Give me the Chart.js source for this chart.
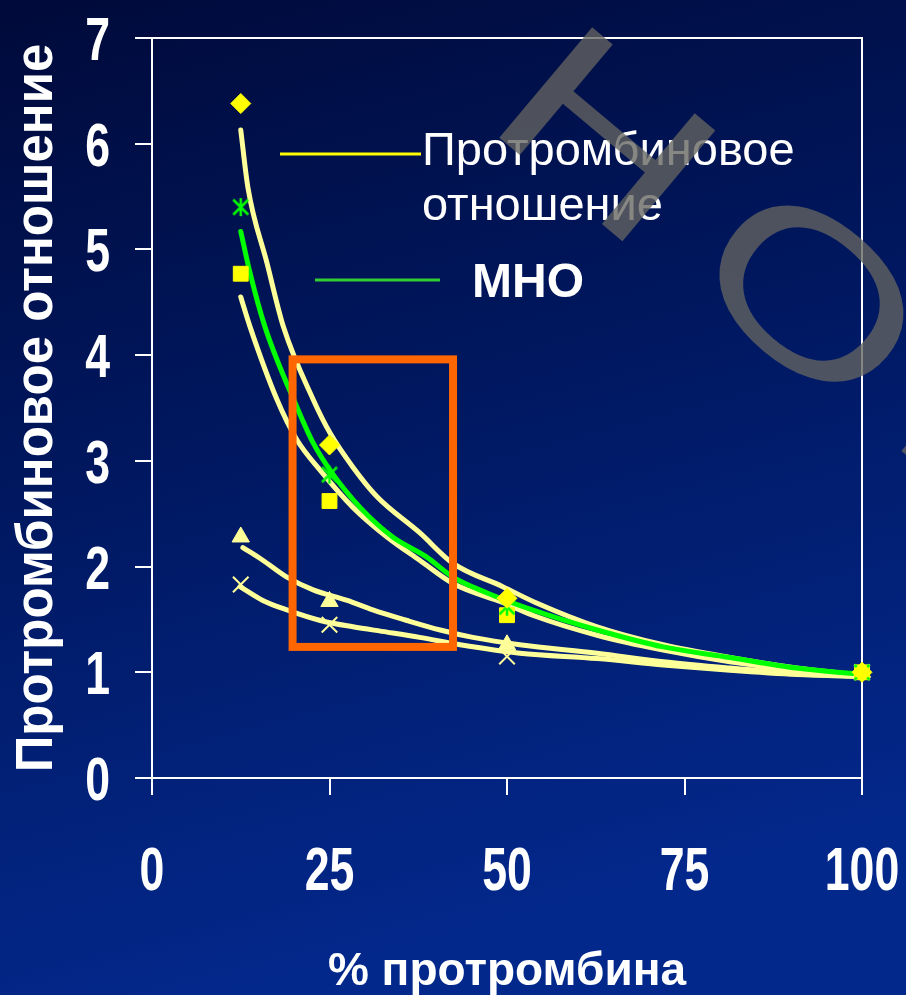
<!DOCTYPE html>
<html lang="ru">
<head>
<meta charset="utf-8">
<title>Протромбиновое отношение и МНО</title>
<script src="https://cdn.jsdelivr.net/npm/chart.js@4.4.1/dist/chart.umd.min.js"></script>
<style>
  html, body { margin: 0; padding: 0; background: #001560; }
  #chart { display: block; }
</style>
</head>
<body>
<canvas id="chart" width="906" height="995"></canvas>
<script>
//DATA

//Axes
var xTicks = [0, 25, 50, 75, 100];
var yTicks = [0, 1, 2, 3, 4, 5, 6, 7];

//Measured points (% prothrombin)
var prothrombin = [12.5, 25, 50, 100];
var poDiamond = [6.38, 3.15, 1.70, 1.00];
var inrStar = [5.40, 2.87, 1.62, 1.00];
var poSquare = [4.77, 2.62, 1.54, 1.00];
var poTriangle = [2.28, 1.67, 1.26, 1.00];
var poCross = [1.83, 1.45, 1.15, 1.00];

//Trend curves
var fitUpperX = [12.5, 13.5, 16.2, 18.5, 22.7, 25.1, 28.3, 31.7, 37.7, 42.4, 49.4, 54, 62.7, 72, 81.4, 90.8, 100];
var fitUpperY = [6.13, 5.59, 4.87, 4.27, 3.58, 3.26, 2.94, 2.66, 2.32, 2.03, 1.81, 1.66, 1.43, 1.26, 1.14, 1.04, 0.97];
var fitInrX = [12.5, 13.8, 15.9, 20.4, 22.7, 25.1, 29.3, 33.9, 38.7, 42.4, 47.2, 54, 62.7, 72, 81.4, 90.8, 100];
var fitInrY = [5.17, 4.78, 4.27, 3.51, 3.17, 2.91, 2.56, 2.28, 2.09, 1.90, 1.75, 1.58, 1.40, 1.24, 1.14, 1.04, 0.98];
var fitLowerX = [12.5, 13.8, 17.6, 20.4, 23.7, 28.3, 33.1, 37.7, 42.4, 49.4, 54, 62.7, 72, 81.4, 90.8, 100];
var fitLowerY = [4.55, 4.27, 3.58, 3.20, 2.91, 2.56, 2.28, 2.06, 1.84, 1.66, 1.53, 1.35, 1.21, 1.10, 1.02, 0.97];
var fitTriangleX = [12.8, 15.6, 19.0, 22.7, 27.5, 31.1, 35.9, 40.6, 45.2, 51.8, 62.7, 72, 81.4, 90.8, 100];
var fitTriangleY = [2.18, 2.06, 1.90, 1.78, 1.68, 1.59, 1.49, 1.40, 1.33, 1.26, 1.18, 1.10, 1.04, 0.99, 0.96];
var fitCrossX = [12.4, 15.6, 19.0, 23.7, 28.3, 33.1, 37.7, 43.4, 51.8, 62.7, 72, 81.4, 90.8, 100];
var fitCrossY = [1.81, 1.68, 1.59, 1.49, 1.43, 1.38, 1.33, 1.26, 1.18, 1.13, 1.07, 1.02, 0.98, 0.96];

//Highlighted range
var zoneX = [19.8, 42.4];
var zoneY = [1.24, 3.96];

//Texts
var legendLabels = ["Протромбиновое отношение", "МНО"];
var xTitle = "% протромбина";
var yTitle = "Протромбиновое отношение";
var stampLetters = ["Н", "О", "Р"];

//Colors
var $white = "#ffffff";
var $yellow = "#ffff00";
var $paleYellow = "#ffff99";
var $green = "#00ff00";
var $legendGreen = "#33cc33";
var $orange = "#ff6600";

var plainFont = "'Liberation Sans', Arial, sans-serif";


function pairs(xs, ys) {
  return xs.map(function (x, i) { return { x: x, y: ys[i] }; });
}

// Excel-like asterisk marker
function starMarker(color) {
  var c = document.createElement("canvas");
  c.width = 20;
  c.height = 20;
  var g = c.getContext("2d");
  g.strokeStyle = color;
  g.lineWidth = 2.5;
  g.beginPath();
  g.moveTo(10, 1); g.lineTo(10, 19);
  g.moveTo(2.5, 2.5); g.lineTo(17.5, 17.5);
  g.moveTo(17.5, 2.5); g.lineTo(2.5, 17.5);
  g.stroke();
  return c;
}

function markerSet(values, style, radius, color, border) {
  return {
    data: pairs(prothrombin, values),
    showLine: false,
    pointStyle: style,
    pointRadius: radius,
    backgroundColor: color,
    borderColor: color,
    borderWidth: border,
    clip: false
  };
}

function curveSet(xs, ys, color) {
  return {
    data: pairs(xs, ys),
    showLine: true,
    borderColor: color,
    borderWidth: 5,
    borderCapStyle: "round",
    borderJoinStyle: "round",
    pointRadius: 0,
    tension: 0.4,
    cubicInterpolationMode: "monotone",
    fill: false,
    clip: false
  };
}

// condensed bold digits, like Arial Narrow
function narrowText(ctx, text, x, y, align) {
  ctx.save();
  ctx.translate(x, y);
  ctx.scale(0.72, 1);
  ctx.textAlign = align;
  ctx.fillText(text, 0, 0);
  ctx.restore();
}


// Background, frame, tick labels, highlighted range, legend and stamp
var decorations = {
  id: "decorations",
  beforeDraw: function (chart) {
    var ctx = chart.ctx;
    var grad = ctx.createLinearGradient(0, 0, 260, chart.height);
    grad.addColorStop(0, "#000a3a");
    grad.addColorStop(0.45, "#00175e");
    grad.addColorStop(1, "#03288c");
    ctx.save();
    ctx.fillStyle = grad;
    ctx.fillRect(0, 0, chart.width, chart.height);
    ctx.restore();
  },
  beforeDatasetsDraw: function (chart) {
    var ctx = chart.ctx;
    var a = chart.chartArea;
    var sx = chart.scales.x;
    var sy = chart.scales.y;
    ctx.save();
    ctx.strokeStyle = $white;
    ctx.lineWidth = 2;
    ctx.beginPath();
    ctx.moveTo(a.left, a.top);
    ctx.lineTo(a.right, a.top);
    ctx.lineTo(a.right, a.bottom);
    ctx.stroke();

    //  Tick labels
    ctx.fillStyle = $white;
    ctx.textBaseline = "alphabetic";
    ctx.font = "bold 62px " + plainFont;
    sx.ticks.forEach(function (t) {
      narrowText(ctx, String(t.value), sx.getPixelForValue(t.value), a.bottom + 112, "center");
    });
    sy.ticks.forEach(function (t) {
      narrowText(ctx, String(t.value), a.left - 42, sy.getPixelForValue(t.value) + 22, "right");
    });
    ctx.restore();
  },
  afterDatasetsDraw: function (chart) {
    var ctx = chart.ctx;
    var sx = chart.scales.x;
    var sy = chart.scales.y;

    //  Orange box
    var x1 = sx.getPixelForValue(zoneX[0]);
    var x2 = sx.getPixelForValue(zoneX[1]);
    var y1 = sy.getPixelForValue(zoneY[1]);
    var y2 = sy.getPixelForValue(zoneY[0]);
    ctx.save();
    ctx.strokeStyle = $orange;
    ctx.lineWidth = 8;
    ctx.strokeRect(x1, y1, x2 - x1, y2 - y1);

    //  Legend
    ctx.lineWidth = 3;
    ctx.strokeStyle = $yellow;
    ctx.beginPath();
    ctx.moveTo(280, 154);
    ctx.lineTo(421, 154);
    ctx.stroke();
    ctx.strokeStyle = $legendGreen;
    ctx.beginPath();
    ctx.moveTo(315, 280);
    ctx.lineTo(440, 280);
    ctx.stroke();

    ctx.fillStyle = $white;
    ctx.textAlign = "left";
    ctx.textBaseline = "alphabetic";
    ctx.font = "47px " + plainFont;
    var words = legendLabels[0].split(" ");
    ctx.fillText(words[0], 422, 165);
    ctx.fillText(words[1], 422, 220);
    ctx.font = "bold 48px " + plainFont;
    ctx.fillText(legendLabels[1], 472, 297);
    ctx.restore();
  },
  afterDraw: function (chart) {
    var ctx = chart.ctx;
    var spots = [[609, 132], [813, 292], [1005, 440]];
    ctx.save();
    ctx.font = "210px " + plainFont;
    ctx.textAlign = "center";
    ctx.textBaseline = "alphabetic";
    ctx.fillStyle = "rgba(100,100,96,0.78)";
    stampLetters.forEach(function (ch, i) {
      ctx.save();
      ctx.translate(spots[i][0], spots[i][1]);
      ctx.rotate(40 * Math.PI / 180);
      ctx.scale(1.37, 1);
      ctx.fillText(ch, 0, 75);
      ctx.restore();
    });
    ctx.restore();
  }
};


var ctx = document.getElementById("chart").getContext("2d");
var myChart = new Chart(ctx, {
  type: "scatter",
  data: {
    datasets: [
      markerSet(poDiamond, "rectRot", 10, $yellow, 1),
      markerSet(inrStar, starMarker($green), 9, $green, 0),
      markerSet(poSquare, "rect", 10.5, $yellow, 1),
      markerSet(poTriangle, "triangle", 10, $paleYellow, 1),
      markerSet(poCross, "crossRot", 11, $paleYellow, 2),
      curveSet(fitInrX, fitInrY, $green),
      curveSet(fitUpperX, fitUpperY, $paleYellow),
      curveSet(fitLowerX, fitLowerY, $paleYellow),
      curveSet(fitTriangleX, fitTriangleY, $paleYellow),
      curveSet(fitCrossX, fitCrossY, $paleYellow)
    ]
  },
  options: {
    responsive: false,
    animation: false,
    events: [],
    devicePixelRatio: 1,
    layout: { padding: { top: 38, right: 44, bottom: 0, left: 0 } },
    plugins: {
      legend: { display: false },
      tooltip: { enabled: false }
    },
    scales: {
      x: {
        type: "linear",
        min: 0,
        max: 100,
        afterFit: function (s) { s.height = 217; },
        afterBuildTicks: function (s) { s.ticks = xTicks.map(function (v) { return { value: v }; }); },
        border: { display: true, color: $white, width: 2 },
        grid: { drawOnChartArea: false, drawTicks: true, tickLength: 17, color: $white, lineWidth: 2 },
        ticks: { display: false },
        title: {
          display: true,
          text: xTitle,
          color: $white,
          padding: { top: 0, bottom: 0 },
          font: { family: plainFont, size: 46, weight: "bold", lineHeight: 1 }
        }
      },
      y: {
        type: "linear",
        min: 0,
        max: 7,
        afterFit: function (s) { s.width = 152; },
        afterBuildTicks: function (s) { s.ticks = yTicks.map(function (v) { return { value: v }; }); },
        border: { display: true, color: $white, width: 2 },
        grid: { drawOnChartArea: false, drawTicks: true, tickLength: 17, color: $white, lineWidth: 2 },
        ticks: { display: false },
        title: {
          display: true,
          text: yTitle,
          color: $white,
          padding: { top: 12, bottom: 0 },
          font: { family: plainFont, size: 51, weight: "bold", lineHeight: 1 }
        }
      }
    }
  },
  plugins: [decorations]
});
</script>
</body>
</html>
